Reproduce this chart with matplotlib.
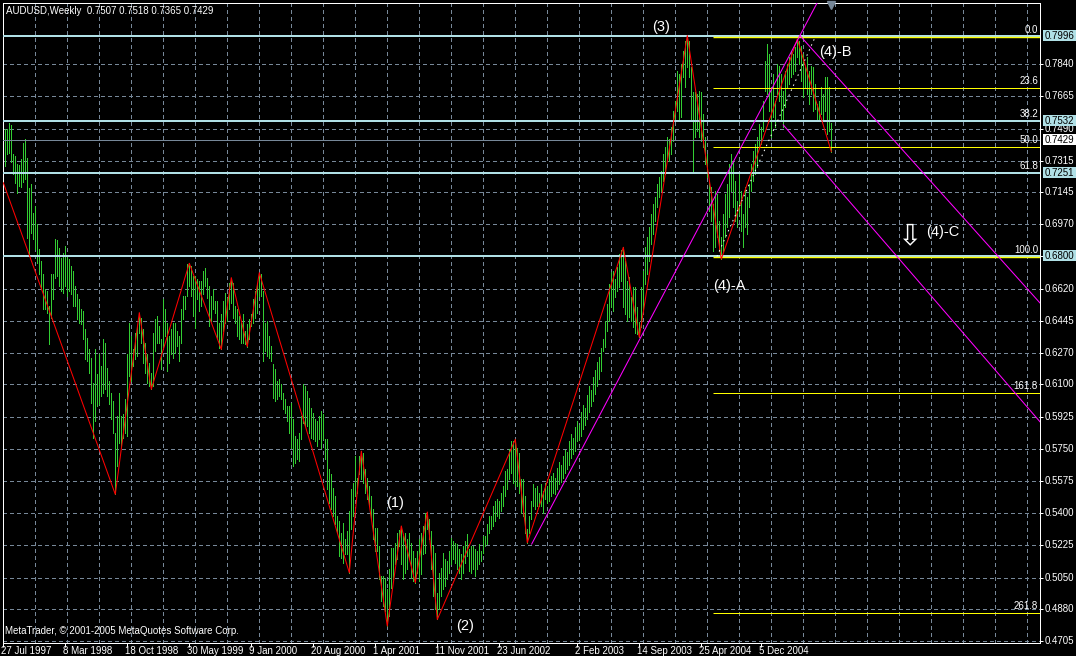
import numpy as np
import matplotlib
matplotlib.use("Agg")
import matplotlib.pyplot as plt
from matplotlib import transforms
from matplotlib.patches import Rectangle

# # # # # # # # # # # # # # # # # # # # # # # # # # # # # # # # # # # # # # # #
# DATA (bar 1 = week of 27 Jul 1997)
# # # # # # # # # # # # # # # # # # # # # # # # # # # # # # # # # # # # # # # #

TITLE = "AUDUSD,Weekly  0.7507 0.7518 0.7365 0.7429"
COPYRIGHT = "MetaTrader, \u00a9 2001-2005 MetaQuotes Software Corp."

HIGHS = [
    0.7508, 0.7490, 0.7490, 0.7519, 0.7508, 0.7350, 0.7341, 0.7296, 0.7291, 0.7323,
    0.7414, 0.7436, 0.7332, 0.7169, 0.7187, 0.7033, 0.7070, 0.6970, 0.6834, 0.6771,
    0.6698, 0.6617, 0.6607, 0.6526, 0.6698, 0.6698, 0.6892, 0.6885, 0.6843, 0.6789,
    0.6816, 0.6852, 0.6798, 0.6780, 0.6743, 0.6716, 0.6635, 0.6589, 0.6562, 0.6508,
    0.6499, 0.6399, 0.6354, 0.6290, 0.6245, 0.6109, 0.6290, 0.6154, 0.6263, 0.6200,
    0.6345, 0.6327, 0.6191, 0.6118, 0.6055, 0.6010, 0.5837, 0.5928, 0.6055, 0.5928,
    0.5937, 0.6019, 0.6263, 0.6435, 0.6363, 0.6290, 0.6381, 0.6417, 0.6490, 0.6463,
    0.6399, 0.6327, 0.6263, 0.6218, 0.6164, 0.6381, 0.6453, 0.6472, 0.6417, 0.6345,
    0.6562, 0.6508, 0.6435, 0.6363, 0.6399, 0.6435, 0.6435, 0.6390, 0.6363, 0.6508,
    0.6580, 0.6580, 0.6752, 0.6758, 0.6743, 0.6689, 0.6689, 0.6671, 0.6662, 0.6662,
    0.6716, 0.6734, 0.6680, 0.6635, 0.6580, 0.6617, 0.6553, 0.6553, 0.6435, 0.6481,
    0.6553, 0.6598, 0.6571, 0.6653, 0.6680, 0.6653, 0.6526, 0.6508, 0.6472, 0.6435,
    0.6481, 0.6390, 0.6426, 0.6453, 0.6481, 0.6562, 0.6607, 0.6653, 0.6707, 0.6698,
    0.6607, 0.6435, 0.6444, 0.6363, 0.6308, 0.6209, 0.6181, 0.6118, 0.6127, 0.6100,
    0.6055, 0.6018, 0.5982, 0.5982, 0.6000, 0.5910, 0.5819, 0.5801, 0.5837, 0.5928,
    0.6100, 0.6091, 0.6064, 0.6027, 0.5973, 0.5946, 0.5910, 0.5900, 0.5928, 0.5955,
    0.5937, 0.5801, 0.5801, 0.5638, 0.5611, 0.5538, 0.5493, 0.5384, 0.5357, 0.5293,
    0.5348, 0.5257, 0.5302, 0.5411, 0.5529, 0.5565, 0.5710, 0.5592, 0.5710, 0.5737,
    0.5728, 0.5638, 0.5592, 0.5547, 0.5493, 0.5420, 0.5321, 0.5321, 0.5221, 0.5058,
    0.5058, 0.5049, 0.4985, 0.5094, 0.5212, 0.5212, 0.5239, 0.5293, 0.5310, 0.5330,
    0.5275, 0.5293, 0.5257, 0.5293, 0.5239, 0.5194, 0.5158, 0.5194, 0.5257, 0.5293,
    0.5330, 0.5402, 0.5406, 0.5366, 0.5302, 0.5221, 0.5185, 0.4967, 0.5076, 0.5103,
    0.5185, 0.5149, 0.5139, 0.5194, 0.5266, 0.5248, 0.5239, 0.5230, 0.5203, 0.5176,
    0.5221, 0.5248, 0.5284, 0.5203, 0.5221, 0.5221, 0.5203, 0.5194, 0.5230, 0.5194,
    0.5275, 0.5275, 0.5339, 0.5384, 0.5384, 0.5438, 0.5466, 0.5475, 0.5466, 0.5511,
    0.5547, 0.5629, 0.5638, 0.5746, 0.5792, 0.5790, 0.5801, 0.5756, 0.5728, 0.5583,
    0.5583, 0.5493, 0.5312, 0.5384, 0.5466, 0.5556, 0.5538, 0.5547, 0.5511, 0.5556,
    0.5520, 0.5565, 0.5547, 0.5583, 0.5601, 0.5620, 0.5592, 0.5647, 0.5680, 0.5660,
    0.5710, 0.5745, 0.5730, 0.5790, 0.5830, 0.5810, 0.5870, 0.5900, 0.5880, 0.5950,
    0.5990, 0.5970, 0.6040, 0.6090, 0.6070, 0.6140, 0.6180, 0.6220, 0.6250, 0.6300,
    0.6347, 0.6446, 0.6537, 0.6646, 0.6709, 0.6718, 0.6673, 0.6736, 0.6809, 0.6830,
    0.6845, 0.6772, 0.6664, 0.6682, 0.6573, 0.6627, 0.6627, 0.6519, 0.6437, 0.6627,
    0.6718, 0.6845, 0.6899, 0.6954, 0.7026, 0.7080, 0.7117, 0.7189, 0.7225, 0.7262,
    0.7352, 0.7388, 0.7443, 0.7434, 0.7497, 0.7588, 0.7642, 0.7805, 0.7787, 0.7841,
    0.7914, 0.7968, 0.7996, 0.7968, 0.7823, 0.7687, 0.7687, 0.7678, 0.7696, 0.7687,
    0.7570, 0.7443, 0.7352, 0.7207, 0.7171, 0.7080, 0.7153, 0.7135, 0.6990, 0.6899,
    0.7026, 0.7135, 0.7189, 0.7298, 0.7352, 0.7316, 0.7207, 0.7099, 0.7243, 0.7153,
    0.7026, 0.7171, 0.7117, 0.7189, 0.7298, 0.7370, 0.7407, 0.7443, 0.7515, 0.7497,
    0.7642, 0.7860, 0.7950, 0.7896, 0.7696, 0.7787, 0.7642, 0.7841, 0.7832, 0.7787,
    0.7696, 0.7805, 0.7841, 0.7878, 0.7914, 0.7896, 0.7932, 0.7977, 0.7968, 0.7941,
    0.7896, 0.7823, 0.7878, 0.7805, 0.7832, 0.7823, 0.7733, 0.7624, 0.7642, 0.7715,
    0.7678, 0.7769, 0.7769, 0.7715, 0.7518,
]

LOWS = [
    0.7327, 0.7287, 0.7350, 0.7359, 0.7309, 0.7242, 0.7196, 0.7142, 0.7178, 0.7175,
    0.7200, 0.7214, 0.6897, 0.6807, 0.6921, 0.6888, 0.6834, 0.6761, 0.6698, 0.6617,
    0.6508, 0.6508, 0.6490, 0.6318, 0.6463, 0.6562, 0.6680, 0.6689, 0.6635, 0.6607,
    0.6598, 0.6635, 0.6580, 0.6607, 0.6589, 0.6526, 0.6526, 0.6453, 0.6435, 0.6426,
    0.6345, 0.6236, 0.6227, 0.6164, 0.6000, 0.5810, 0.5901, 0.5982, 0.5991, 0.6037,
    0.6055, 0.6073, 0.6037, 0.5991, 0.5910, 0.5837, 0.5502, 0.5656, 0.5783, 0.5765,
    0.5810, 0.5837, 0.5819, 0.6145, 0.6118, 0.6200, 0.6236, 0.6254, 0.6381, 0.6327,
    0.6218, 0.6164, 0.6109, 0.6091, 0.6073, 0.6091, 0.6281, 0.6327, 0.6327, 0.6182,
    0.6308, 0.6363, 0.6173, 0.6218, 0.6263, 0.6245, 0.6272, 0.6308, 0.6227, 0.6327,
    0.6453, 0.6508, 0.6580, 0.6635, 0.6580, 0.6472, 0.6408, 0.6562, 0.6499, 0.6526,
    0.6589, 0.6635, 0.6571, 0.6417, 0.6444, 0.6508, 0.6490, 0.6345, 0.6300, 0.6290,
    0.6390, 0.6435, 0.6444, 0.6508, 0.6544, 0.6463, 0.6435, 0.6363, 0.6345, 0.6327,
    0.6327, 0.6320, 0.6305, 0.6345, 0.6417, 0.6435, 0.6463, 0.6490, 0.6580, 0.6580,
    0.6227, 0.6281, 0.6254, 0.6245, 0.6227, 0.6028, 0.6009, 0.6018, 0.6036, 0.6018,
    0.5964, 0.5946, 0.5901, 0.5837, 0.5756, 0.5656, 0.5674, 0.5692, 0.5683, 0.5801,
    0.5891, 0.5873, 0.5873, 0.5837, 0.5810, 0.5801, 0.5792, 0.5765, 0.5801, 0.5756,
    0.5801, 0.5692, 0.5529, 0.5457, 0.5420, 0.5384, 0.5339, 0.5293, 0.5167, 0.5158,
    0.5130, 0.5176, 0.5176, 0.5076, 0.5312, 0.5384, 0.5493, 0.5511, 0.5611, 0.5583,
    0.5565, 0.5511, 0.5475, 0.5438, 0.5366, 0.5257, 0.5194, 0.5194, 0.5040, 0.4922,
    0.4895, 0.4868, 0.4786, 0.4840, 0.4994, 0.5040, 0.5121, 0.5148, 0.5221, 0.5121,
    0.5040, 0.5076, 0.5094, 0.5148, 0.5049, 0.5031, 0.5022, 0.5076, 0.5030, 0.5067,
    0.5176, 0.5185, 0.5312, 0.5257, 0.5094, 0.4949, 0.4877, 0.4822, 0.4877, 0.4949,
    0.4985, 0.5004, 0.5040, 0.5076, 0.5121, 0.5148, 0.5130, 0.5094, 0.5076, 0.5040,
    0.5076, 0.5130, 0.5167, 0.5085, 0.5076, 0.5094, 0.5058, 0.5094, 0.5121, 0.5139,
    0.5185, 0.5221, 0.5230, 0.5293, 0.5312, 0.5330, 0.5357, 0.5384, 0.5375, 0.5411,
    0.5438, 0.5493, 0.5529, 0.5583, 0.5620, 0.5565, 0.5547, 0.5547, 0.5511, 0.5402,
    0.5384, 0.5293, 0.5239, 0.5293, 0.5366, 0.5438, 0.5420, 0.5438, 0.5438, 0.5438,
    0.5402, 0.5475, 0.5457, 0.5466, 0.5493, 0.5511, 0.5502, 0.5529, 0.5560, 0.5570,
    0.5590, 0.5620, 0.5640, 0.5660, 0.5700, 0.5720, 0.5740, 0.5790, 0.5800, 0.5820,
    0.5860, 0.5880, 0.5910, 0.5950, 0.5980, 0.6010, 0.6050, 0.6090, 0.6130, 0.6170,
    0.6283, 0.6301, 0.6392, 0.6446, 0.6519, 0.6501, 0.6573, 0.6609, 0.6627, 0.6664,
    0.6519, 0.6482, 0.6446, 0.6464, 0.6446, 0.6410, 0.6380, 0.6374, 0.6356, 0.6410,
    0.6501, 0.6646, 0.6700, 0.6772, 0.6863, 0.6917, 0.6990, 0.7062, 0.7117, 0.7153,
    0.7207, 0.7243, 0.7316, 0.7316, 0.7352, 0.7425, 0.7533, 0.7588, 0.7533, 0.7552,
    0.7769, 0.7715, 0.7823, 0.7769, 0.7533, 0.7262, 0.7443, 0.7479, 0.7443, 0.7425,
    0.7388, 0.7298, 0.7225, 0.7044, 0.6990, 0.6827, 0.6845, 0.6899, 0.6827, 0.6781,
    0.6827, 0.6899, 0.6954, 0.7008, 0.7153, 0.7062, 0.6990, 0.6954, 0.7026, 0.6935,
    0.6845, 0.6954, 0.6917, 0.7062, 0.7153, 0.7207, 0.7243, 0.7280, 0.7388, 0.7407,
    0.7479, 0.7696, 0.7678, 0.7588, 0.7443, 0.7552, 0.7497, 0.7678, 0.7642, 0.7533,
    0.7497, 0.7606, 0.7715, 0.7733, 0.7769, 0.7787, 0.7805, 0.7878, 0.7841, 0.7751,
    0.7660, 0.7715, 0.7678, 0.7624, 0.7678, 0.7588, 0.7597, 0.7533, 0.7533, 0.7570,
    0.7533, 0.7588, 0.7461, 0.7479, 0.7365,
]

# zigzag indicator: value where the line enters on the left, then pivot bars
# (alternating low / high, starting with a low)
ZZ_START = 0.7196
ZZ_PIVOTS = [57, 69, 75, 94, 110, 115, 123, 129, 174, 180, 193, 200, 207, 213,
             218, 257, 263, 311, 319, 343, 360, 398, 415]

# price scale
PRICE_TICKS = [0.4705, 0.4880, 0.5050, 0.5225, 0.5400, 0.5575, 0.5750, 0.5925,
               0.6100, 0.6270, 0.6445, 0.6620, 0.6795, 0.6970, 0.7145, 0.7315,
               0.7490, 0.7665, 0.7840]
LEVELS = [0.7996, 0.7532, 0.7251, 0.6800]  # horizontal lines
BID = 0.7429

# time scale
TIME_LABELS = ["27 Jul 1997", "8 Mar 1998", "18 Oct 1998", "30 May 1999",
               "9 Jan 2000", "20 Aug 2000", "1 Apr 2001", "11 Nov 2001",
               "23 Jun 2002", "2 Feb 2003", "14 Sep 2003", "25 Apr 2004",
               "5 Dec 2004"]
TIME_LABEL_BARS = [1, 32, 63, 94, 125, 156, 187, 218, 249, 288, 319, 350, 380]

# fibonacci retracement (4)-A .. (3)
FIB_HIGH = 0.7996
FIB_LOW = 0.6800
FIB_START_BAR = 356
FIB_LEVELS = [0.0, 23.6, 38.2, 50.0, 61.8, 100.0, 161.8, 261.8]

# trend lines: (bar1, price1, bar2, price2)
RISING_LINE = (265.2, 0.5232, 399.3, 0.7996)
CHANNEL_UPPER = (399.3, 0.7996, 519.3, 0.6543)
CHANNEL_LOWER = (391.0, 0.7510, 519.3, 0.5897)
DOTTED_LINE = (357.8, 0.6795, 406.8, 0.7985)

# elliott wave labels
WAVE_LABELS = ["(1)", "(2)", "(3)", "(4)-A", "(4)-B", "(4)-C"]
WAVE_BARS = [192.3, 227.3, 325.2, 355.8, 408.8, 462.2]
WAVE_PRICES = [0.5455, 0.4787, 0.8043, 0.6637, 0.7907, 0.6930]
ARROW_BAR, ARROW_PRICE = 453.8, 0.6907

# # # # # # # # # # # # # # # # # # # # # # # # # # # # # # # # # # # # # # # #
# STYLE
# # # # # # # # # # # # # # # # # # # # # # # # # # # # # # # # # # # # # # # #

BAR_GREEN = "#32cd32"
GRID = "#778899"
LEVEL_CYAN = "#b0e0e6"
MAGENTA = "#ff00ff"
PX = 0.72  # one pixel in points at 100 dpi
FONT = "Liberation Sans"

# # # # # # # # # # # # # # # # # # # # # # # # # # # # # # # # # # # # # # # #
# PLOT
# # # # # # # # # # # # # # # # # # # # # # # # # # # # # # # # # # # # # # # #

fig = plt.figure(figsize=(10.76, 6.56), dpi=100, facecolor="black")
ax = fig.add_axes([3 / 1076, 13 / 656, 1037 / 1076, 640 / 656], facecolor="black")
X_MIN, X_MAX = 0.85, 519.35
ax.set_xlim(X_MIN, X_MAX)
ax.set_ylim(0.4694, 0.8173)
px_price = (0.8173 - 0.4694) / 640

for s in ax.spines.values():
    s.set_color("white")
    s.set_linewidth(PX)

# ticks only as marks, labels drawn by hand
ax.yaxis.tick_right()
ax.set_yticks(PRICE_TICKS)
ax.set_xticks(TIME_LABEL_BARS)
ax.tick_params(axis="y", length=2.5, width=PX, color="white", labelright=False)
ax.tick_params(axis="x", length=3, width=PX, color="white", labelbottom=False)

# dashed grid
grid_style = dict(color=GRID, lw=PX, ls=(0, (4, 3)), zorder=1, antialiased=False)
for p in PRICE_TICKS:
    ax.axhline(p, **grid_style)
for b in np.arange(17, X_MAX, 16):
    ax.axvline(b, **grid_style)

# bars
bars = np.arange(1, len(HIGHS) + 1)
ax.vlines(bars, LOWS, HIGHS, color=BAR_GREEN, lw=PX, zorder=2, antialiased=False)

# horizontal levels and bid line
for p in LEVELS:
    ax.axhline(p, color=LEVEL_CYAN, lw=2 * PX, zorder=3)
ax.axhline(BID, color=GRID, lw=PX, zorder=3)

# fibonacci
fib_prices = [FIB_HIGH - lvl / 100 * (FIB_HIGH - FIB_LOW) for lvl in FIB_LEVELS]
for lvl, p in zip(FIB_LEVELS, fib_prices):
    if lvl in (38.2, 61.8):
        continue  # hidden under the cyan levels
    lw = 1.4 * PX if lvl in (0.0, 100.0) else PX
    ax.hlines(p - px_price, FIB_START_BAR, X_MAX, color="#ffff00", lw=lw, zorder=4)
for lvl, p in zip(FIB_LEVELS, fib_prices):
    ax.annotate(f"{lvl:.1f}", xy=(1, p), xycoords=("axes fraction", "data"),
                xytext=(-2, 1), textcoords="offset pixels", ha="right", va="bottom",
                color="white", fontsize=7, family=FONT, zorder=8)

# zigzag
zz_x = [1] + ZZ_PIVOTS
zz_y = [ZZ_START]
for i, b in enumerate(ZZ_PIVOTS):
    zz_y.append(LOWS[b - 1] if i % 2 == 0 else HIGHS[b - 1])
ax.plot(zz_x, zz_y, color="red", lw=0.75, zorder=5)


def ray(line, x_end):
    b1, p1, b2, p2 = line
    slope = (p2 - p1) / (b2 - b1)
    return [b1, x_end], [p1, p1 + slope * (x_end - b1)]


for line in (RISING_LINE, CHANNEL_UPPER, CHANNEL_LOWER):
    xs, ys = ray(line, X_MAX)
    ax.plot(xs, ys, color=MAGENTA, lw=0.75, zorder=6)
ax.plot(DOTTED_LINE[0::2], DOTTED_LINE[1::2], color="white", lw=PX,
        ls=(0, (1.5, 4)), zorder=6)

# wave labels
for lbl, b, p in zip(WAVE_LABELS, WAVE_BARS, WAVE_PRICES):
    ax.text(b, p, lbl, color="white", fontsize=10.5, family=FONT,
            ha="left", va="center", zorder=9, clip_on=False)
ax.text(ARROW_BAR, ARROW_PRICE, "\u21e9", color="white", fontsize=21,
        family="DejaVu Sans", ha="center", va="center", zorder=9)

# chart shift marker
shift_tr = transforms.offset_copy(
    transforms.blended_transform_factory(ax.transData, ax.transAxes),
    fig=fig, x=0, y=-2, units="dots")
ax.plot([414.7], [1.0], marker="v", ms=6, color=GRID, transform=shift_tr,
        clip_on=False, zorder=9)

# price labels (level boxes drawn over them, as in the terminal)
for p in PRICE_TICKS:
    ax.annotate(f"{p:.4f}", xy=(1, p), xycoords=("axes fraction", "data"),
                xytext=(5, 0), textcoords="offset pixels", ha="left", va="center",
                color="white", fontsize=7, family=FONT, annotation_clip=False)

axes_w = 1037
box_tr = transforms.blended_transform_factory(ax.transAxes, ax.transData)
for p, fc in [(lv, LEVEL_CYAN) for lv in LEVELS] + [(BID, "white")]:
    ax.add_patch(Rectangle((1 + 3 / axes_w, p - 5.5 * px_price), 36 / axes_w,
                           11 * px_price, transform=box_tr, facecolor=fc,
                           edgecolor="none", clip_on=False, zorder=10))
    ax.annotate(f"{p:.4f}", xy=(1, p), xycoords=("axes fraction", "data"),
                xytext=(5, 0), textcoords="offset pixels", ha="left", va="center",
                color="black", fontsize=7, family=FONT, annotation_clip=False,
                zorder=11)

# time labels
for lbl, b in zip(TIME_LABELS, TIME_LABEL_BARS):
    ax.annotate(lbl, xy=(b, 0), xycoords=("data", "axes fraction"),
                xytext=(-2, -11), textcoords="offset pixels", ha="left",
                va="baseline", color="white", fontsize=7, family=FONT,
                annotation_clip=False)

fig.text(6 / 1076, 1 - 14 / 656, TITLE, ha="left", va="baseline", color="white",
         fontsize=7, family=FONT)
fig.text(5 / 1076, 22 / 656, COPYRIGHT, ha="left", va="baseline", color="white",
         fontsize=7, family=FONT)

fig.savefig("out.png", dpi=100, facecolor="black")
